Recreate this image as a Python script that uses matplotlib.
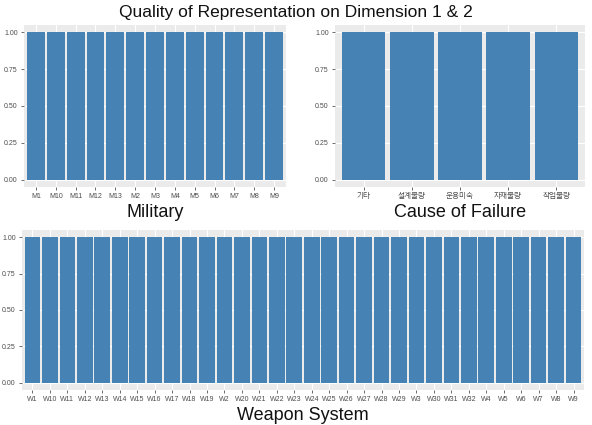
import matplotlib
matplotlib.use("Agg")
import matplotlib.pyplot as plt

plt.rcParams['font.family'] = ['Liberation Sans', 'Noto Sans CJK KR', 'DejaVu Sans']

military = ["M1", "M10", "M11", "M12", "M13", "M2", "M3", "M4", "M5", "M6", "M7", "M8", "M9"]
military_vals = [1.0] * len(military)

cause = ["기타", "설계불량", "운용미숙", "자재불량", "작업불량"]
cause_vals = [1.0] * len(cause)

weapon = ["W1", "W10", "W11", "W12", "W13", "W14", "W15", "W16", "W17", "W18", "W19",
          "W2", "W20", "W21", "W22", "W23", "W24", "W25", "W26", "W27", "W28", "W29",
          "W3", "W30", "W31", "W32", "W4", "W5", "W6", "W7", "W8", "W9"]
weapon_vals = [1.0] * len(weapon)

yticks = [0.0, 0.25, 0.5, 0.75, 1.0]
ytick_labels = ["0.00", "0.25", "0.50", "0.75", "1.00"]

BAR = "#4682B4"
BG = "#EBEBEB"

fig = plt.figure(figsize=(5.92, 4.25), dpi=100)

def panel(rect, cats, vals, xlabel, tick_fs=5.0):
    ax = fig.add_axes(rect)
    ax.set_facecolor(BG)
    x = range(len(cats))
    ax.grid(True, color="white", linewidth=0.8)
    ax.set_axisbelow(True)
    ax.bar(x, vals, width=0.9, color=BAR, zorder=3)
    ax.set_xlim(-0.6, len(cats) - 0.4)
    ax.set_ylim(-0.05, 1.05)
    ax.set_xticks(list(x))
    ax.set_xticklabels(cats, fontsize=tick_fs, color="#4D4D4D")
    ax.set_yticks(yticks)
    ax.set_yticklabels(ytick_labels, fontsize=5, color="#4D4D4D")
    ax.tick_params(axis="both", length=2, width=0.5, color="#333333", pad=2.5)
    for s in ax.spines.values():
        s.set_visible(False)
    ax.set_xlabel(xlabel, fontsize=13, color="#111111", labelpad=2.5)
    return ax

panel([24/592, 1 - 187/425, 262/592, 162/425], military, military_vals, "Military")
panel([335/592, 1 - 187/425, 250/592, 162/425], cause, cause_vals, "Cause of Failure", tick_fs=5.5)
panel([22/592, 1 - 390/425, 562/592, 160/425], weapon, weapon_vals, "Weapon System")

fig.suptitle("Quality of Representation on Dimension 1 & 2", fontsize=12.5, y=0.988, color="#111111")

fig.savefig("out.png", dpi=100, facecolor="white")
